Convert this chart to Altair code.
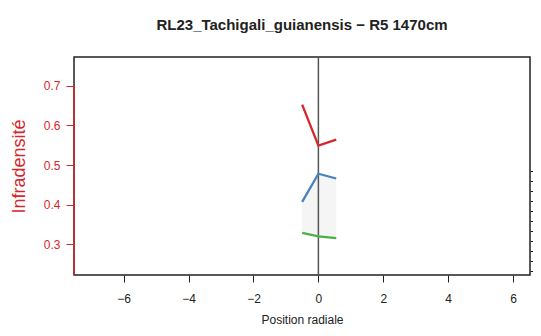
import altair as alt
import pandas as pd

chart_title = "RL23_Tachigali_guianensis − R5 1470cm"
x_label = "Position radiale"
y_label = "Infradensité"

x_pos = [-0.5, 0.0, 0.55]
red_vals = [0.652, 0.549, 0.564]
blue_vals = [0.407, 0.478, 0.466]
green_vals = [0.329, 0.320, 0.316]

x_domain = [-7.53, 6.52]
y_domain = [0.223, 0.772]
x_ticks = [-6, -4, -2, 0, 2, 4, 6]
y_ticks = [0.3, 0.4, 0.5, 0.6, 0.7]
right_ticks = list(range(0, 11))
right_domain = [-0.4, 21.37]

series_names = ["rouge", "bleu", "vert"]
series_colors = ["#D7262B", "#4682C0", "#4DAF4A"]

rows = []
for name, vals in zip(series_names, [red_vals, blue_vals, green_vals]):
    for xv, yv in zip(x_pos, vals):
        rows.append({"serie": name, "x": xv, "y": yv})
lines_df = pd.DataFrame(rows)

band_df = pd.DataFrame({"x": x_pos, "lo": green_vals, "hi": blue_vals})

xs = alt.Scale(domain=x_domain, nice=False, zero=False)
ys = alt.Scale(domain=y_domain, nice=False, zero=False)

x_axis = alt.Axis(values=x_ticks, title=x_label, grid=False, domain=False,
                  tickColor="#222", tickSize=7, labelPadding=11,
                  labelFontSize=12, labelColor="#222", titleFontSize=12,
                  titleFontWeight="normal", titleColor="#222",
                  titleY=48, titleBaseline="alphabetic", labelFont="Liberation Sans",
                  titleFont="Liberation Sans")
y_axis = alt.Axis(values=y_ticks, title=y_label, grid=False, domain=False,
                  tickColor="#D7262B", tickSize=8, labelPadding=6,
                  labelFontSize=12, labelColor="#D7262B", titleColor="#D7262B",
                  titleFontSize=18, titleFontWeight="normal",
                  titleX=-50, titleY=109, titleBaseline="alphabetic",
                  labelFont="Liberation Sans", titleFont="Liberation Sans",
                  format=".1f")

band = alt.Chart(band_df).mark_area(color="#F5F5F5", opacity=1).encode(
    x=alt.X("x:Q", scale=xs, axis=x_axis),
    y=alt.Y("lo:Q", scale=ys, axis=y_axis),
    y2="hi:Q",
)

vline = alt.Chart(pd.DataFrame({"x": [0.0]})).mark_rule(color="#555", strokeWidth=1.5).encode(
    x=alt.X("x:Q", scale=xs, axis=x_axis)
)

left_rule = alt.Chart(pd.DataFrame({"x": [x_domain[0]], "y": [y_ticks[-1]], "y2": [y_domain[0]]})).mark_rule(
    color="#D7262B", strokeWidth=1.5).encode(
    x=alt.X("x:Q", scale=xs, axis=x_axis), y=alt.Y("y:Q", scale=ys, axis=y_axis), y2="y2:Q"
)

lines = alt.Chart(lines_df).mark_line(strokeWidth=2.3).encode(
    x=alt.X("x:Q", scale=xs, axis=x_axis),
    y=alt.Y("y:Q", scale=ys, axis=y_axis),
    color=alt.Color("serie:N", scale=alt.Scale(domain=series_names, range=series_colors), legend=None),
)

main = alt.layer(band, vline, left_rule, lines)

right = alt.Chart(pd.DataFrame({"r": right_ticks})).mark_point(opacity=0).encode(
    x=alt.X("r:Q", scale=xs, axis=x_axis),
    y=alt.Y("r:Q", scale=alt.Scale(domain=right_domain, nice=False, zero=False),
            axis=alt.Axis(orient="right", values=right_ticks, labels=False, title=None,
                          domain=False, grid=False, tickColor="#222", tickSize=5)),
)

chart = alt.layer(main, right).resolve_scale(y="independent").properties(
    width=456, height=218,
    title=alt.TitleParams(chart_title, fontSize=15, fontWeight="bold", color="#222",
                          font="Liberation Sans", anchor="middle", offset=11,
                          baseline="alphabetic"),
    autosize=alt.AutoSizeParams(type="none"),
    padding={"left": 66, "top": 49, "right": 3, "bottom": 53},
).configure_view(stroke="#222", strokeWidth=1.5)

chart.save("out.html", embed_options={"renderer": "svg", "actions": False})
